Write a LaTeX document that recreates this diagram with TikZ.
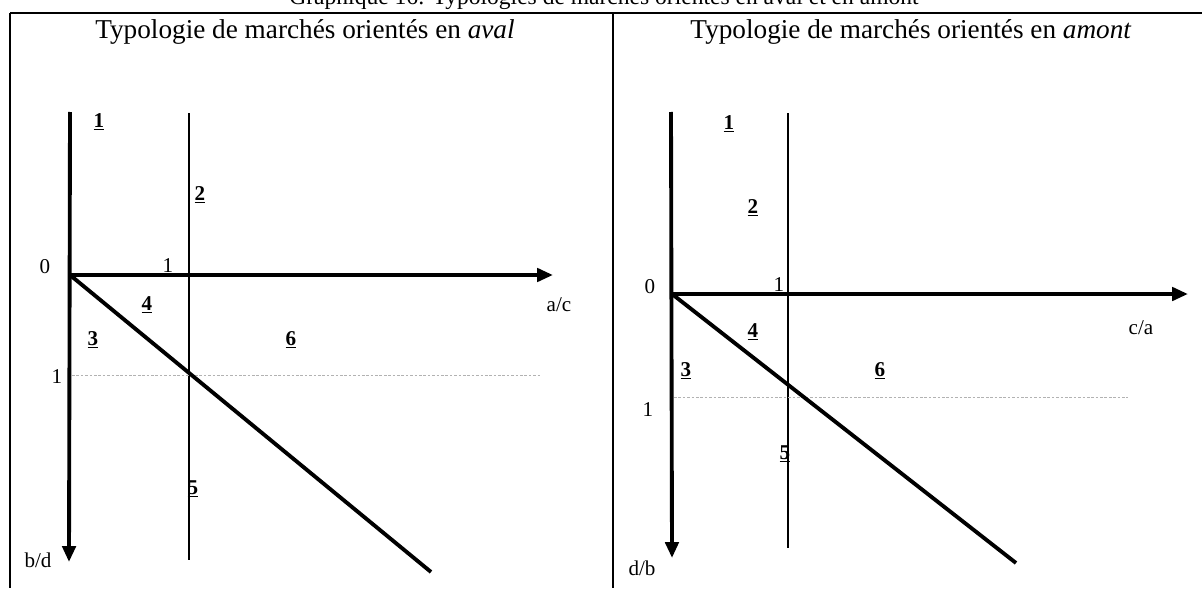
\documentclass[tikz,border=0pt]{standalone}
\usepackage{fontspec}
\setmainfont{Liberation Serif}
\usetikzlibrary{arrows.meta, positioning}
\tikzstyle{cadre}=[line width=1.1pt]
\tikzstyle{axe}=[line width=2.2pt, -{Triangle[length=9pt, width=7.5pt]}]
\tikzstyle{diag}=[line width=2.2pt]
\tikzstyle{seuil}=[line width=0.8pt]
\tikzstyle{pointil}=[line width=0.4pt, gray!60, dash pattern=on 1.5pt off 1pt]
\tikzstyle{titre}=[font=\fontsize{15.5}{17}\selectfont, inner sep=0pt]
\tikzstyle{grad}=[font=\fontsize{12}{14}\selectfont, inner sep=0pt]
\tikzstyle{zone}=[font=\fontsize{12}{14}\selectfont\bfseries, inner sep=0pt]

\begin{document}
\begin{tikzpicture}[x=0.02cm, y=-0.02cm]
  \useasboundingbox (0,0) rectangle (1202,588);
  \clip (0,0) rectangle (1202,588);
  \node[titre, font=\fontsize{13.4}{15}\selectfont, anchor=base] (graph) at (604,5)
    {Graphique 16: Typologies de marchés orientés en aval et en amont};
  \draw[cadre] (10,13) -- (1202,13);
  \draw[cadre] (10,13) -- (10,588);
  \draw[cadre] (613,13) -- (613,588);
  \node[titre] (tAval) at (305,32) {Typologie de marchés orientés en \textit{aval}};
  \node[titre] (tAmont) at (911,32) {Typologie de marchés orientés en \textit{amont}};

  % aval
  \coordinate (oA) at (70,275);
  \coordinate (hA) at (70,112);
  \coordinate (bA) at (69,562);
  \coordinate (xA) at (553,275);
  \coordinate (sHA) at (189,113);
  \coordinate (sBA) at (189,560);
  \coordinate (dA) at (431,572);
  \draw[axe] (hA) -- (bA);
  \draw[axe] (oA) -- (xA);
  \draw[seuil] (sHA) -- (sBA);
  \draw[pointil] (72,375) coordinate (pGA) -- (540,375) coordinate (pDA);
  \draw[diag] (oA) -- (dA);
  \node[grad] (zeroA) at (45,267) {0};
  \node[grad] (unXA) at (168,266) {1};
  \node[grad] (unYA) at (57,377) {1};
  \node[grad] (ac) at (559,305) {a/c};
  \node[grad] (bd) at (38,560) {b/d};
  \node[zone] (zA1) at (99,122) {\underline{1}};
  \node[zone] (zA2) at (200,195) {\underline{2}};
  \node[zone] (zA3) at (93,340) {\underline{3}};
  \node[zone] (zA4) at (147,305) {\underline{4}};
  \node[zone] (zA5) at (193,489) {\underline{5}};
  \node[zone] (zA6) at (291,340) {\underline{6}};

  % amont
  \coordinate (oB) at (672,294);
  \coordinate (hB) at (671,112);
  \coordinate (bB) at (672,558);
  \coordinate (xB) at (1188,294);
  \coordinate (sHB) at (788,113);
  \coordinate (sBB) at (788,548);
  \coordinate (dB) at (1016,563);
  \draw[axe] (hB) -- (bB);
  \draw[axe] (oB) -- (xB);
  \draw[seuil] (sHB) -- (sBB);
  \draw[pointil] (674,397) coordinate (pGB) -- (1128,397) coordinate (pDB);
  \draw[diag] (oB) -- (dB);
  \node[grad] (zeroB) at (650,287) {0};
  \node[grad] (unXB) at (779,285) {1};
  \node[grad] (unYB) at (648,410) {1};
  \node[grad] (ca) at (1141,328) {c/a};
  \node[grad] (db) at (642,568) {d/b};
  \node[zone] (zB1) at (729,124) {\underline{1}};
  \node[zone] (zB2) at (753,208) {\underline{2}};
  \node[zone] (zB3) at (686,371) {\underline{3}};
  \node[zone] (zB4) at (753,332) {\underline{4}};
  \node[zone] (zB5) at (785,454) {\underline{5}};
  \node[zone] (zB6) at (880,371) {\underline{6}};
\end{tikzpicture}
\end{document}
